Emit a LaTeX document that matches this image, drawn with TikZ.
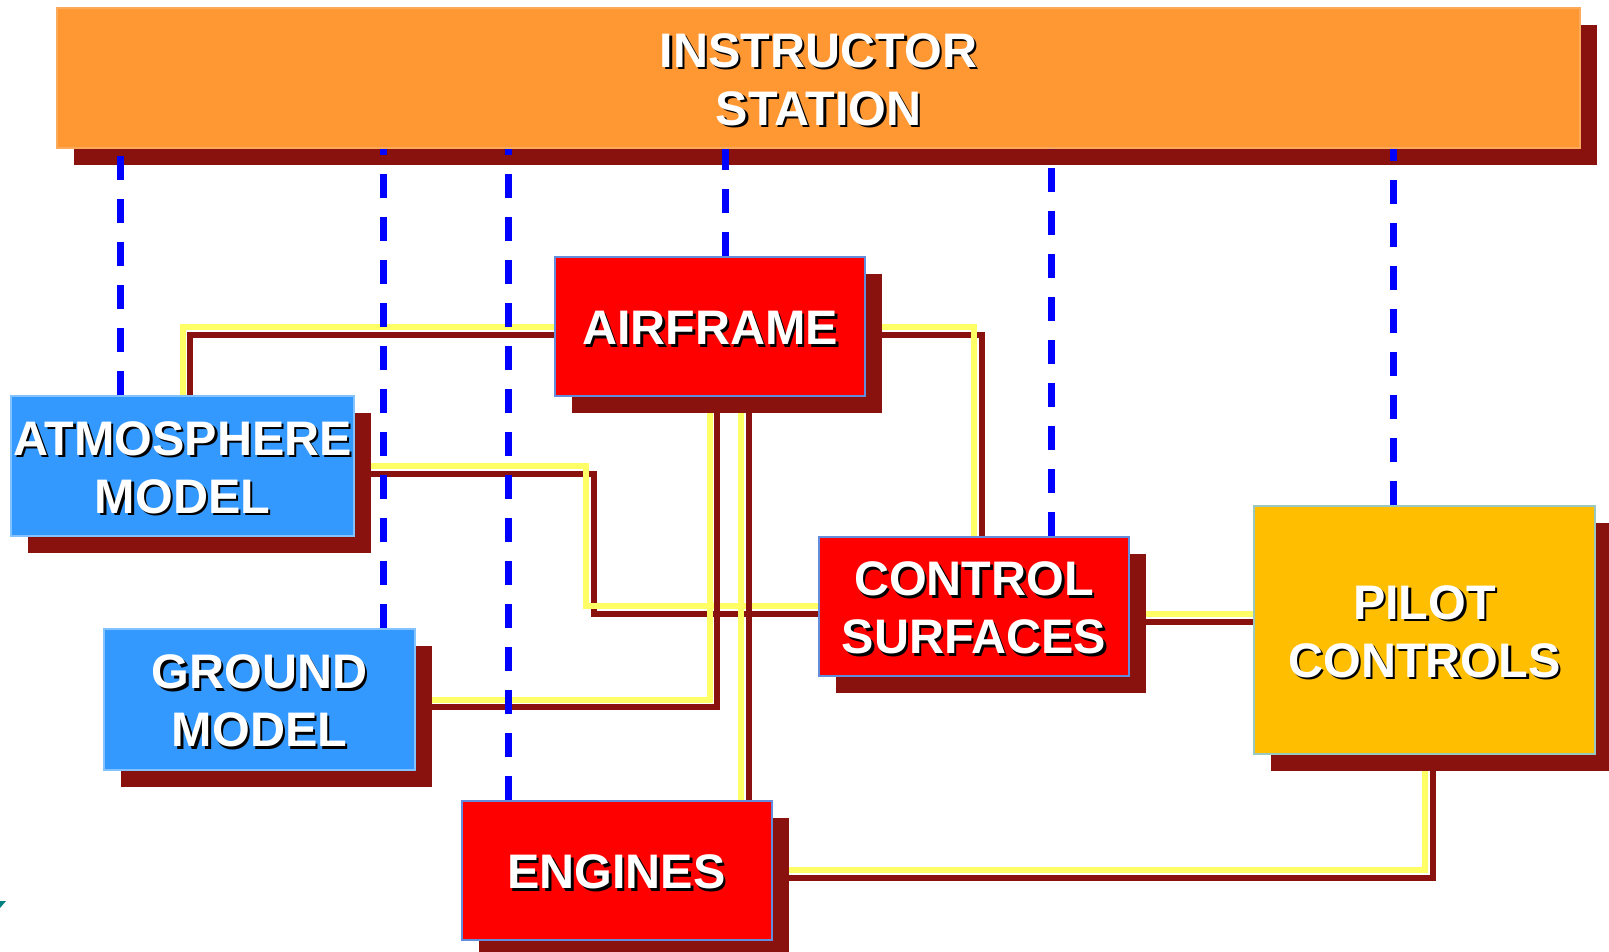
\documentclass[tikz,border=0pt]{standalone}
\usepackage{fontspec}
\setmainfont{Liberation Sans}
\usetikzlibrary{shadows}
\pgfdeclarelayer{bg}
\pgfdeclarelayer{fg}
\pgfsetlayers{bg,main,fg}
\definecolor{insorange}{RGB}{255,152,51}
\definecolor{insborder}{RGB}{250,170,90}
\definecolor{shadowred}{RGB}{138,18,14}
\definecolor{boxred}{RGB}{255,0,0}
\definecolor{redborder}{RGB}{100,140,220}
\definecolor{boxblue}{RGB}{51,153,255}
\definecolor{blueborder}{RGB}{130,195,255}
\definecolor{pilotyellow}{RGB}{255,190,0}
\definecolor{pilotborder}{RGB}{155,200,190}
\definecolor{lineyellow}{RGB}{255,255,102}
\definecolor{linkblue}{RGB}{0,0,255}
\definecolor{tealmark}{RGB}{0,128,128}
\newcommand{\shd}[1]{\raisebox{-3pt}[\height][\depth]{\makebox[0pt][l]{\kern2.5pt\raisebox{-2.5pt}{\textcolor{black}{#1}}}#1}}
\begin{document}
\begin{tikzpicture}[x=1pt,y=-1pt,
  box/.style={draw, line width=2pt, inner sep=0pt, text=white, align=center,
    font=\fontsize{48.5}{58}\selectfont\bfseries,
    drop shadow={shadow xshift=17pt, shadow yshift=-17pt, opacity=1, fill=shadowred}},
  insbox/.style={box, fill=insorange, draw=insborder},
  redbox/.style={box, fill=boxred, draw=redborder},
  bluebox/.style={box, fill=boxblue, draw=blueborder},
  pilotbox/.style={box, fill=pilotyellow, draw=pilotborder},
  yel/.style={draw=lineyellow, line width=6pt},
  dred/.style={draw=shadowred, line width=6pt},
  link/.style={draw=linkblue, line width=7pt, dash pattern=on 24pt off 19pt}]

\useasboundingbox (0,0) rectangle (1609,952);

% boxes
\node[insbox, minimum width=1523pt, minimum height=140pt] (ins) at (818.5,78) {\shd{INSTRUCTOR}\\\shd{STATION}};
\node[redbox, minimum width=310pt, minimum height=139pt] (af) at (710,326.5) {\shd{AIRFRAME}};
\node[bluebox, minimum width=343pt, minimum height=140pt] (atm) at (182.5,466) {\shd{ATMOSPHERE}\\\shd{MODEL}};
\node[bluebox, minimum width=311pt, minimum height=141pt] (gm) at (259.5,699.5) {\shd{GROUND}\\\shd{MODEL}};
\node[redbox, minimum width=310pt, minimum height=139pt] (cs) at (974,606.5) {\shd{CONTROL}\\\shd{SURFACES}};
\node[pilotbox, minimum width=341pt, minimum height=248pt] (pc) at (1424.5,630) {\shd{PILOT}\\\shd{CONTROLS}};
\node[redbox, minimum width=310pt, minimum height=139pt] (en) at (616.5,870.5) {\shd{ENGINES}};

% data connectors (yellow line with dark red twin)
\begin{pgfonlayer}{bg}
% atmosphere - airframe
\draw[dred] (atm.north -| 190,0) |- (af.west |- 0,334.5);
\draw[yel] (atm.north -| 182.5,0) |- (af.west |- 0,327);
% atmosphere - control surfaces
\draw[dred] (atm.east |- 0,474) -- (593.5,474) -- (593.5,613.5) -- (cs.west |- 0,613.5);
\draw[yel] (atm.east |- 0,466) -- (586,466) -- (586,606) -- (cs.west |- 0,606);
% airframe - control surfaces
\draw[dred] (af.east |- 0,334.5) -| (cs.north -| 981.5,0);
\draw[yel] (af.east |- 0,326.5) -| (cs.north -| 974,0);
% airframe - ground model
\draw[dred] (af.south -| 717,0) |- (gm.east |- 0,706.5);
\draw[yel] (af.south -| 710,0) |- (gm.east |- 0,699.5);
% airframe - engines
\draw[dred] (af.south -| 749,0) -- (en.north -| 749,0);
\draw[yel] (af.south -| 741,0) -- (en.north -| 741,0);
% control surfaces - pilot controls
\draw[dred] (cs.east |- 0,622) -- (pc.west |- 0,622);
\draw[yel] (cs.east |- 0,614) -- (pc.west |- 0,614);
% engines - pilot controls
\draw[dred] (en.east |- 0,877.5) -| (pc.south -| 1432.5,0);
\draw[yel] (en.east |- 0,870) -| (pc.south -| 1425,0);
\end{pgfonlayer}

% instructor links (blue dashed)
\begin{pgfonlayer}{fg}
\draw[link] (atm.north -| 120,0) -- (ins.south -| 120,0);
\draw[link] (gm.north -| 383.5,0) -- (ins.south -| 383.5,0);
\draw[link] (en.north -| 508,0) -- (ins.south -| 508,0);
\draw[link] (af.north -| 725.5,0) -- (ins.south -| 725.5,0);
\draw[link] (cs.north -| 1051.5,0) -- (ins.south -| 1051.5,0);
\draw[link] (pc.north -| 1393.5,0) -- (ins.south -| 1393.5,0);
\end{pgfonlayer}

% small mark at lower left edge
\fill[tealmark] (0,901) -- (6,901) -- (0,908) -- cycle;
\end{tikzpicture}
\end{document}
